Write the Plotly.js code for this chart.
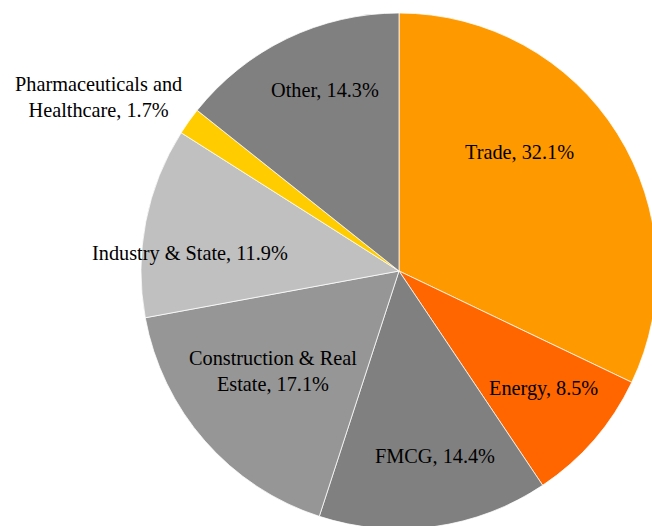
<!DOCTYPE html>
<html>
<head>
<meta charset="utf-8">
<script src="https://cdn.plot.ly/plotly-3.0.1.min.js"></script>
<style>
  html, body { margin: 0; padding: 0; overflow: hidden; background: #fff; }
  #chart { width: 700px; height: 540px; }
</style>
</head>
<body>
<div id="chart"></div>
<script>
// sectors, clockwise from 12 o'clock
const sectors = ['Trade', 'Energy', 'FMCG', 'Construction & Real Estate',
                 'Industry & State', 'Pharmaceuticals and Healthcare', 'Other'];
const shares = [32.1, 8.5, 14.4, 17.1, 11.9, 1.7, 14.3];
const labelText = ['Trade, 32.1%', 'Energy, 8.5%', 'FMCG, 14.4%',
                   'Construction & Real<br>Estate, 17.1%', 'Industry & State, 11.9%',
                   'Pharmaceuticals and<br>Healthcare, 1.7%', 'Other, 14.3%'];
const colors = ['#FF9900', '#FF6600', '#808080', '#969696', '#C0C0C0', '#FFCC00', '#808080'];

// label centres in page pixels (Excel-style "best fit" placement)
const labelPos = [[519, 152], [543, 388], [435, 456], [273, 371],
                  [190, 253], [98, 97], [325, 90]];

const W = 700, H = 540;

let trace = {
    type: 'pie',
    labels: sectors,
    values: shares,
    sort: false,
    direction: 'clockwise',
    rotation: 0,
    textinfo: 'none',
    hoverinfo: 'label+percent',
    marker: {
        colors: colors,
        line: {color: 'rgba(255,255,255,0.75)', width: 1}
    },
    domain: {x: [141 / W, 657 / W], y: [(H - 529) / H, (H - 13) / H]}
};

let annotations = labelText.map((t, i) => ({
    text: t,
    x: labelPos[i][0] / W,
    y: 1 - labelPos[i][1] / H,
    xref: 'paper', yref: 'paper',
    xanchor: 'center', yanchor: 'middle',
    showarrow: false,
    font: {family: 'Liberation Serif', size: 20.3, color: '#000'}
}));

Plotly.newPlot('chart', [trace], {
    width: W,
    height: H,
    margin: {l: 0, r: 0, t: 0, b: 0},
    showlegend: false,
    paper_bgcolor: '#fff',
    annotations: annotations
}, {displayModeBar: false, staticPlot: true});
</script>
</body>
</html>
